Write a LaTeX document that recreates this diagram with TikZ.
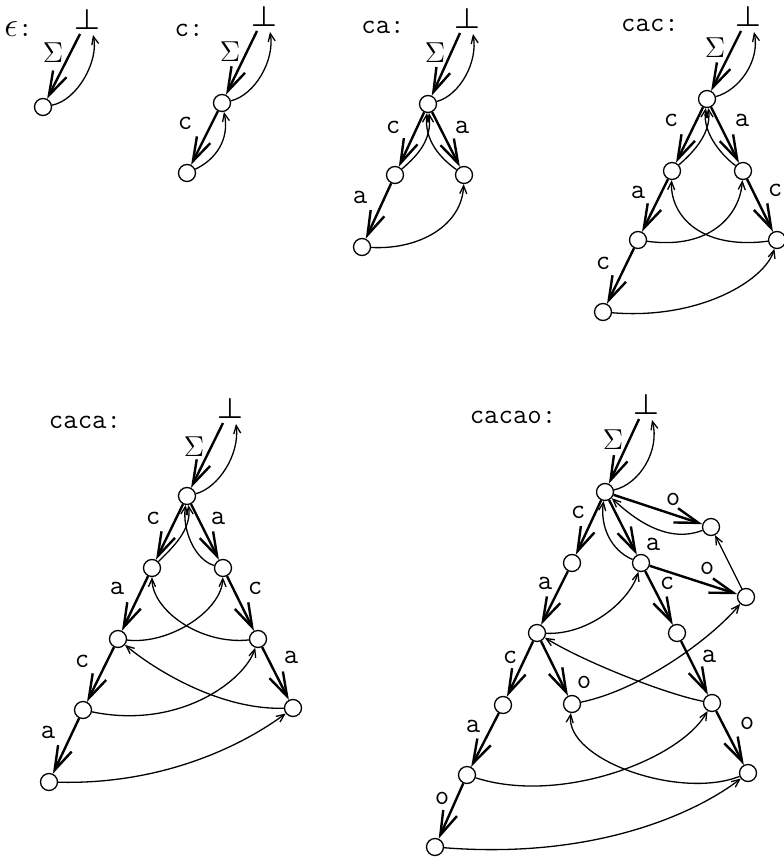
\documentclass[tikz,border=0pt]{standalone}
\usepackage{fontspec}
\usetikzlibrary{arrows.meta}
\begin{document}
\begin{tikzpicture}[x=0.5pt,y=-0.5pt,
  st/.style={circle,draw,line width=0.65pt,minimum size=8.5pt,inner sep=0pt},
  botn/.style={inner sep=0pt,anchor=south,font=\fontsize{14}{14}\selectfont\boldmath},
  tedge/.style={line width=1.2pt,-{Straight Barb[length=12pt,width=7.5pt]}},
  link/.style={line width=0.65pt,-{Straight Barb[length=4pt,width=3.5pt]}},
  lbl/.style={font=\ttfamily\fontsize{14}{14}\selectfont,inner sep=0pt},
  sig/.style={font=\fontsize{14}{14}\selectfont,inner sep=0pt},
  head/.style={font=\ttfamily\fontsize{14}{14}\selectfont,inner sep=0pt},
]
\useasboundingbox (0,0) rectangle (783,860);

% ---------- panel epsilon ----------
\node[head,anchor=west] (h1) at (4,29) {{\fontsize{17}{17}\selectfont$\epsilon$}:};
\node[botn] (b1) at (87,30) {$\bot$};
\node[st] (r1) at (43,107) {};
\node[sig] (s1) at (53,53) {$\Sigma$};
\draw[tedge] ([xshift=-3.5pt,yshift=-2pt]b1.south) -- (r1);
\draw[link] (r1) .. controls (78,100) and (99,60) .. ([xshift=3pt,yshift=-2.5pt]b1.south);

% ---------- panel c ----------
\node[head] (h2) at (189,30) {c:};
\node[botn] (b2) at (264,27) {$\bot$};
\node[st] (r2) at (222,103) {};
\node[st] (c2) at (187,173) {};
\node[sig] (s2) at (230,52) {$\Sigma$};
\node[lbl] (l2a) at (185,123) {c};
\draw[tedge] ([xshift=-3.5pt,yshift=-2pt]b2.south) -- (r2);
\draw[tedge] (r2) -- (c2);
\draw[link] (r2) .. controls (255,95) and (275,60) .. ([xshift=3pt,yshift=-2.5pt]b2.south);
\draw[link] (c2) .. controls (215,160) and (230,140) .. (r2);

% ---------- panel ca ----------
\node[head] (h3) at (383,27) {ca:};
\node[botn] (b3) at (467,29) {$\bot$};
\node[st] (r3) at (428,104) {};
\node[st] (c3) at (395,175) {};
\node[st] (a3) at (464,175) {};
\node[st] (ca3) at (362,247) {};
\node[sig] (s3) at (435,53) {$\Sigma$};
\node[lbl] (l3a) at (393,127) {c};
\node[lbl] (l3b) at (462,127) {a};
\node[lbl] (l3c) at (360,197) {a};
\draw[tedge] ([xshift=-3.5pt,yshift=-2pt]b3.south) -- (r3);
\draw[tedge] (r3) -- (c3);
\draw[tedge] (r3) -- (a3);
\draw[tedge] (c3) -- (ca3);
\draw[link] (r3) .. controls (460,95) and (478,62) .. ([xshift=3pt,yshift=-2.5pt]b3.south);
\draw[link] (c3) .. controls (418,155) and (432,140) .. (r3);
\draw[link] (a3) .. controls (440,158) and (424,140) .. (r3);
\draw[link] (ca3) .. controls (420,250) and (462,225) .. (a3);

% ---------- panel cac ----------
\node[head] (h4) at (650,25) {cac:};
\node[botn] (b4) at (748,27) {$\bot$};
\node[st] (r4) at (707,99) {};
\node[st] (c4) at (672,171) {};
\node[st] (a4) at (743,171) {};
\node[st] (ca4) at (638,240) {};
\node[st] (ac4) at (777,240) {};
\node[st] (cac4) at (603,312) {};
\node[sig] (s4) at (715,48) {$\Sigma$};
\node[lbl] (l4a) at (671,120) {c};
\node[lbl] (l4b) at (742,120) {a};
\node[lbl] (l4c) at (638,192) {a};
\node[lbl] (l4d) at (775,190) {c};
\node[lbl] (l4e) at (603,263) {c};
\draw[tedge] ([xshift=-3.5pt,yshift=-2pt]b4.south) -- (r4);
\draw[tedge] (r4) -- (c4);
\draw[tedge] (r4) -- (a4);
\draw[tedge] (c4) -- (ca4);
\draw[tedge] (a4) -- (ac4);
\draw[tedge] (ca4) -- (cac4);
\draw[link] (r4) .. controls (740,90) and (760,60) .. ([xshift=3pt,yshift=-2.5pt]b4.south);
\draw[link] (c4) .. controls (690,155) and (712,135) .. (r4);
\draw[link] (a4) .. controls (725,158) and (702,135) .. (r4);
\draw[link] (ca4) .. controls (710,250) and (740,215) .. (a4);
\draw[link] (ac4) .. controls (700,250) and (670,215) .. (c4);
\draw[link] (cac4) .. controls (700,320) and (765,280) .. (ac4);

% ---------- panel caca ----------
\node[head] (h5) at (85,422) {caca:};
\node[botn] (b5) at (230,419) {$\bot$};
\node[st] (r5) at (187,496) {};
\node[st] (c5) at (152,568) {};
\node[st] (a5) at (223,568) {};
\node[st] (ca5) at (118,639) {};
\node[st] (ac5) at (258,639) {};
\node[st] (cac5) at (83,710) {};
\node[st] (aca5) at (293,708) {};
\node[st] (caca5) at (49,782) {};
\node[sig] (s5) at (194,447) {$\Sigma$};
\node[lbl] (l5a) at (153,518) {c};
\node[lbl] (l5b) at (218,518) {a};
\node[lbl] (l5c) at (117,588) {a};
\node[lbl] (l5d) at (255,588) {c};
\node[lbl] (l5e) at (82,661) {c};
\node[lbl] (l5f) at (291,657) {a};
\node[lbl] (l5g) at (48,732) {a};
\draw[tedge] ([xshift=-3.5pt,yshift=-2pt]b5.south) -- (r5);
\draw[tedge] (r5) -- (c5);
\draw[tedge] (r5) -- (a5);
\draw[tedge] (c5) -- (ca5);
\draw[tedge] (a5) -- (ac5);
\draw[tedge] (ca5) -- (cac5);
\draw[tedge] (ac5) -- (aca5);
\draw[tedge] (cac5) -- (caca5);
\draw[link] (r5) .. controls (218,488) and (240,455) .. ([xshift=3pt,yshift=-2.5pt]b5.south);
\draw[link] (c5) .. controls (172,548) and (192,530) .. (r5);
\draw[link] (a5) .. controls (195,560) and (182,530) .. (r5);
\draw[link] (ca5) .. controls (170,645) and (222,610) .. (a5);
\draw[link] (ac5) .. controls (200,645) and (152,610) .. (c5);
\draw[link] (cac5) .. controls (180,730) and (245,680) .. (ac5);
\draw[link] (aca5) .. controls (220,710) and (155,670) .. (ca5);
\draw[link] (caca5) .. controls (170,785) and (250,740) .. (aca5);

% ---------- panel cacao ----------
\node[head] (h6) at (513,417) {cacao:};
\node[botn] (b6) at (646,415) {$\bot$};
\node[st] (r6) at (605,492) {};
\node[st] (c6) at (572,563) {};
\node[st] (a6) at (641,563) {};
\node[st] (o6) at (711,527) {};
\node[st] (ao6) at (746,597) {};
\node[st] (ca6) at (537,633) {};
\node[st] (ac6) at (677,633) {};
\node[st] (cac6) at (503,705) {};
\node[st] (cao6) at (572,704) {};
\node[st] (aca6) at (712,703) {};
\node[st] (caca6) at (467,775) {};
\node[st] (acao6) at (748,773) {};
\node[st] (cacao6) at (435,847) {};
\node[sig] (s6) at (613,440) {$\Sigma$};
\node[lbl] (l6a) at (578,512) {c};
\node[lbl] (l6b) at (653,544) {a};
\node[lbl] (l6c) at (673,499) {o};
\node[lbl] (l6d) at (707,568) {o};
\node[lbl] (l6e) at (667,583) {c};
\node[lbl] (l6f) at (545,583) {a};
\node[lbl] (l6g) at (510,657) {c};
\node[lbl] (l6h) at (584,682) {o};
\node[lbl] (l6i) at (709,656) {a};
\node[lbl] (l6j) at (747,723) {o};
\node[lbl] (l6k) at (473,726) {a};
\node[lbl] (l6l) at (442,798) {o};
\draw[tedge] ([xshift=-3.5pt,yshift=-2pt]b6.south) -- (r6);
\draw[tedge] (r6) -- (c6);
\draw[tedge] (r6) -- (a6);
\draw[tedge] (r6) -- (o6);
\draw[tedge] (c6) -- (ca6);
\draw[tedge] (a6) -- (ac6);
\draw[tedge] (a6) -- (ao6);
\draw[tedge] (ca6) -- (cac6);
\draw[tedge] (ca6) -- (cao6);
\draw[tedge] (ac6) -- (aca6);
\draw[tedge] (aca6) -- (acao6);
\draw[tedge] (cac6) -- (caca6);
\draw[tedge] (caca6) -- (cacao6);
\draw[link] (r6) .. controls (640,484) and (660,450) .. ([xshift=3pt,yshift=-2.5pt]b6.south);
\draw[link] (a6) .. controls (610,550) and (600,525) .. (r6);
\draw[link] (o6) .. controls (665,545) and (630,515) .. (r6);
\draw[link] (ao6) -- (o6);
\draw[link] (ca6) .. controls (590,635) and (630,600) .. (a6);
\draw[link] (aca6) .. controls (670,695) and (590,665) .. (ca6);
\draw[link] (cao6) .. controls (640,690) and (710,640) .. (ao6);
\draw[link] (caca6) .. controls (560,805) and (680,760) .. (aca6);
\draw[link] (acao6) .. controls (680,800) and (565,760) .. (cao6);
\draw[link] (cacao6) .. controls (600,860) and (700,810) .. (acao6);
\end{tikzpicture}
\end{document}
